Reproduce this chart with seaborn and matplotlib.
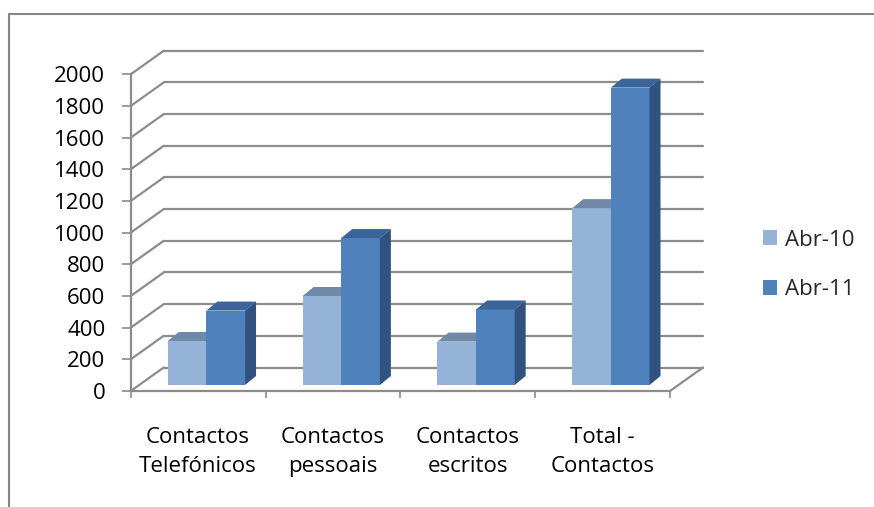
import matplotlib
matplotlib.use("Agg")
import matplotlib.pyplot as plt
import matplotlib.transforms as mtransforms
from matplotlib.patches import Polygon
from matplotlib.lines import Line2D
import seaborn as sns
import pandas as pd

# data
categories = ["Contactos\nTelefónicos", "Contactos\npessoais", "Contactos\nescritos", "Total -\nContactos"]
series = ["Abr-10", "Abr-11"]
abr10 = [278, 562, 274, 1117]
abr11 = [470, 928, 477, 1878]
yticks = list(range(0, 2001, 200))

df = pd.DataFrame({
    "Categoria": categories * 2,
    "Valor": abr10 + abr11,
    "Serie": [series[0]] * 4 + [series[1]] * 4,
})

sns.set_theme(style="white")
plt.rcParams['font.family'] = ['Open Sans', 'DejaVu Sans']

W, H = 874, 507
fig = plt.figure(figsize=(W / 100, H / 100), dpi=100)

# front plane of the axis (pixels)
x0, x1 = 130.7, 670.0
y0, y1 = 391.0, 74.3
ax = fig.add_axes([x0 / W, (H - y0) / H, (x1 - x0) / W, (y0 - y1) / H])

face = {"Abr-10": "#95B3D7", "Abr-11": "#4F81BD"}
top = {"Abr-10": "#7089A8", "Abr-11": "#3B6499"}
side = {"Abr-10": "#6F87A6", "Abr-11": "#31527E"}
grid_c = "#8C8C8C"

sns.barplot(data=df, x="Categoria", y="Valor", hue="Serie", palette=face,
            width=0.573, saturation=1, linewidth=0, ax=ax, legend=True)

ax.set_xlim(-0.5, 3.5)
ax.set_ylim(0, 2000)

# pixel -> data conversions
ppx = (x1 - x0) / 4.0
ppy = (y0 - y1) / 2000.0
wall_dx, wall_dy = 33 / ppx, 23.5 / ppy
bar_dx, bar_dy = 11 / ppx, 9 / ppy

# back wall gridlines and diagonals
for v in yticks:
    ax.plot([-0.5 + wall_dx, 3.5 + wall_dx], [v + wall_dy, v + wall_dy],
            color=grid_c, lw=1.6, clip_on=False, zorder=0.5)
    ax.plot([-0.5, -0.5 + wall_dx], [v, v + wall_dy],
            color=grid_c, lw=1.6, clip_on=False, zorder=0.5)
ax.plot([3.5, 3.5 + wall_dx], [0, wall_dy], color=grid_c, lw=1.6, clip_on=False, zorder=0.5)

# 3d faces on the bars
shift = ax.transData + mtransforms.ScaledTranslation(8.3 / 100, 6 / 100, fig.dpi_scale_trans)
for k, (name, cont) in enumerate(zip(series, ax.containers)):
    for bar in cont:
        bar.set_transform(shift)
        bar.set_clip_on(False)
        bar.set_zorder(2 + k)
        bx, bw, bh = bar.get_x(), bar.get_width(), bar.get_height()
        t = Polygon([(bx, bh), (bx + bw, bh), (bx + bw + bar_dx, bh + bar_dy), (bx + bar_dx, bh + bar_dy)],
                    closed=True, facecolor=top[name], edgecolor="none", transform=shift,
                    clip_on=False, zorder=2 + k)
        s = Polygon([(bx + bw, 0), (bx + bw + bar_dx, bar_dy), (bx + bw + bar_dx, bh + bar_dy), (bx + bw, bh)],
                    closed=True, facecolor=side[name], edgecolor="none", transform=shift,
                    clip_on=False, zorder=2 + k)
        ax.add_patch(t)
        ax.add_patch(s)

# axes styling
for sp in ["top", "right"]:
    ax.spines[sp].set_visible(False)
for sp in ["left", "bottom"]:
    ax.spines[sp].set_color(grid_c)
    ax.spines[sp].set_linewidth(1.6)
ax.set_yticks(yticks)
ax.set_yticklabels([str(v) for v in yticks], fontsize=16, color="black")
ax.set_xticks([-0.5, 0.5, 1.5, 2.5, 3.5])
ax.set_xticklabels([""] * 5)
ax.set_xticks([0, 1, 2, 3], minor=True)
ax.set_xticklabels(categories, minor=True, fontsize=16, color="black", linespacing=1.5)
ax.tick_params(axis="y", direction="out", length=6.3, width=1.2, color=grid_c, pad=12, left=True)
ax.tick_params(axis="x", which="major", direction="out", length=5, width=1.2, color=grid_c, bottom=True)
ax.tick_params(axis="x", which="minor", length=0, pad=26)
ax.set_xlabel("")
ax.set_ylabel("")
ax.set_facecolor("none")

# legend
handles, labels = ax.get_legend_handles_labels()
ax.legend(handles, labels, loc="center left", bbox_to_anchor=(763 / W, (H - 265) / H),
          bbox_transform=fig.transFigure, frameon=False, fontsize=16,
          handlelength=0.63, handleheight=0.63, handletextpad=0.35,
          labelspacing=1.3, borderpad=0, borderaxespad=0)

# chart border (top and left visible)
fig.add_artist(Line2D([8.5 / W, 1.0], [(H - 14) / H, (H - 14) / H], color="#868686", lw=1.5))
fig.add_artist(Line2D([8.5 / W, 8.5 / W], [(H - 14) / H, 0], color="#868686", lw=1.5))

fig.savefig("out.png", dpi=100)
